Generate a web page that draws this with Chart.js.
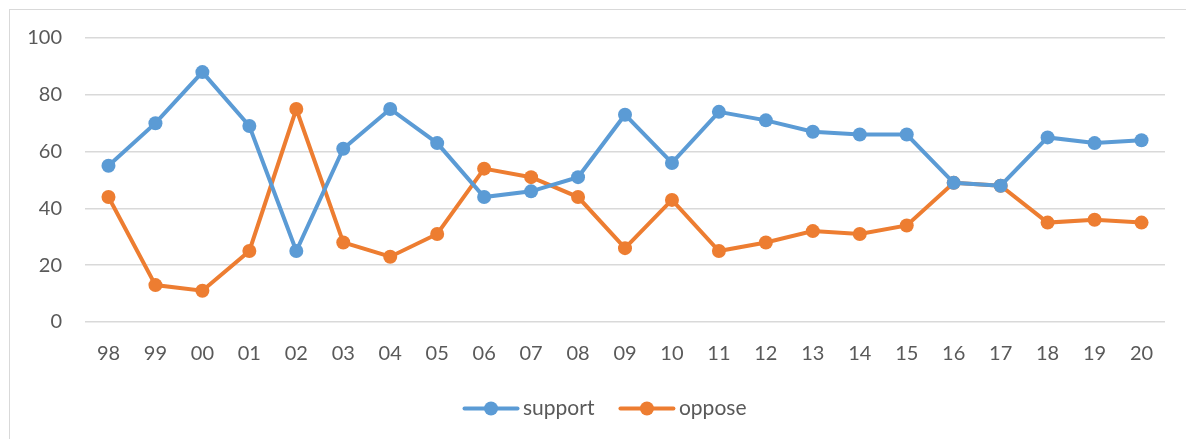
<!DOCTYPE html>
<html>
<head>
<meta charset="utf-8">
<script src="https://cdn.jsdelivr.net/npm/chart.js@4"></script>
<style>
  html, body { margin: 0; padding: 0; background: #fff; overflow: hidden; }
  #frame { position: absolute; left: 9px; top: 9px; width: 1300px; height: 600px; border: 1px solid #d9d9d9; }
  #wrap { position: absolute; left: 0; top: 0; width: 1186px; height: 439px; }
</style>
</head>
<body>
<div id="frame"></div>
<div id="wrap"><canvas id="lineChart"></canvas></div>
<script>
// ============================
// Chart data
// ============================
const years = ["98", "99", "00", "01", "02", "03", "04", "05", "06", "07", "08", "09",
  "10", "11", "12", "13", "14", "15", "16", "17", "18", "19", "20"];
const support = [55, 70, 88, 69, 25, 61, 75, 63, 44, 46, 51, 73, 56, 74, 71, 67, 66, 66, 49, 48, 65, 63, 64];
const oppose = [44, 13, 11, 25, 75, 28, 23, 31, 54, 51, 44, 26, 43, 25, 28, 32, 31, 34, 49, 48, 35, 36, 35];
const yTicks = [0, 20, 40, 60, 80, 100];

const BLUE = "#5b9bd5";
const ORANGE = "#ed7d31";
const TEXT = "#595959";
const FONT = "Lato, 'Open Sans', sans-serif";

// ============================
// Legend: line with a dot, drawn over the (hidden) default box
// ============================
const legendMarkers = {
  id: "legendMarkers",
  afterLayout(chart) {
    // nudge the legend to the right like the original
    if (chart.legend) { chart.legend.left += 22; chart.legend.right += 22; }
  },
  afterDraw(chart) {
    const legend = chart.legend;
    if (!legend || !legend.legendHitBoxes) return;
    const ctx = chart.ctx;
    legend.legendHitBoxes.forEach((box, i) => {
      const color = chart.data.datasets[i].borderColor;
      const cy = box.top + box.height / 2;
      ctx.save();
      ctx.strokeStyle = color;
      ctx.fillStyle = color;
      ctx.lineWidth = 4;
      ctx.lineCap = "round";
      ctx.beginPath();
      ctx.moveTo(box.left + 2, cy);
      ctx.lineTo(box.left + 55, cy);
      ctx.stroke();
      ctx.beginPath();
      ctx.arc(box.left + 28.5, cy, 7, 0, Math.PI * 2);
      ctx.fill();
      ctx.restore();
    });
  }
};

new Chart(document.getElementById("lineChart"), {
  type: "line",
  data: {
    labels: years,
    datasets: [
      { label: "support", data: support, borderColor: BLUE, backgroundColor: BLUE,
        borderWidth: 4, pointRadius: 7, pointBackgroundColor: BLUE, pointBorderWidth: 0, tension: 0 },
      { label: "oppose", data: oppose, borderColor: ORANGE, backgroundColor: ORANGE,
        borderWidth: 4, pointRadius: 7, pointBackgroundColor: ORANGE, pointBorderWidth: 0, tension: 0 }
    ]
  },
  options: {
    responsive: true,
    maintainAspectRatio: false,
    animation: false,
    layout: { padding: { top: 38, right: 21, left: 0, bottom: 10 } },
    plugins: {
      tooltip: { enabled: false },
      legend: {
        position: "bottom",
        labels: {
          boxWidth: 50,
          boxHeight: 4,
          padding: 24,
          color: TEXT,
          font: { family: FONT, size: 21 },
          generateLabels(chart) {
            return chart.data.datasets.map((ds, i) => ({
              text: ds.label, fillStyle: "rgba(0,0,0,0)", strokeStyle: "rgba(0,0,0,0)",
              lineWidth: 0, fontColor: TEXT, datasetIndex: i
            }));
          }
        }
      }
    },
    scales: {
      x: {
        offset: true,
        grid: { display: false },
        border: { display: false },
        ticks: { color: TEXT, font: { family: FONT, size: 20 }, padding: 12, maxRotation: 0 },
        afterFit(scale) { scale.height = 52; }
      },
      y: {
        min: 0,
        max: 100,
        afterBuildTicks(scale) { scale.ticks = yTicks.map(v => ({ value: v })); },
        grid: { color: "#d9d9d9", lineWidth: 1.5, drawTicks: false },
        border: { display: false },
        ticks: { color: TEXT, font: { family: FONT, size: 20 }, padding: 23 },
        afterFit(scale) { scale.width = 85; }
      }
    }
  },
  plugins: [legendMarkers]
});
</script>
</body>
</html>
